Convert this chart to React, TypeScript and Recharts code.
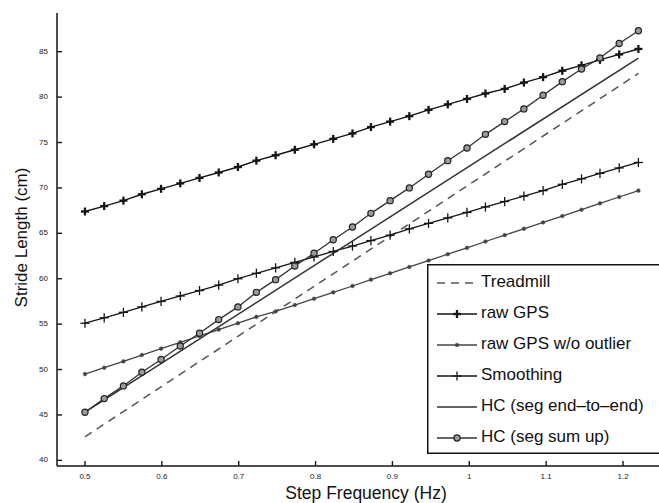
import { LineChart, Line, XAxis, YAxis, Legend } from "recharts";

// step frequency samples (Hz) shared by the marked series
const stepFreq = [
  0.5, 0.525, 0.55, 0.574, 0.599, 0.624, 0.649, 0.674, 0.699, 0.723,
  0.748, 0.773, 0.798, 0.823, 0.848, 0.872, 0.897, 0.922, 0.947, 0.972,
  0.997, 1.021, 1.046, 1.071, 1.096, 1.121, 1.146, 1.17, 1.195, 1.22,
];

// stride length (cm)
const rawGps = [
  67.4, 68.0, 68.6, 69.3, 69.9, 70.5, 71.1, 71.7, 72.3, 73.0,
  73.6, 74.2, 74.8, 75.4, 76.0, 76.7, 77.3, 77.9, 78.6, 79.2,
  79.8, 80.4, 80.9, 81.6, 82.2, 82.9, 83.5, 84.1, 84.7, 85.3,
];
const rawGpsNoOutlier = [
  49.5, 50.2, 50.9, 51.6, 52.3, 53.0, 53.7, 54.4, 55.1, 55.8,
  56.4, 57.1, 57.8, 58.5, 59.2, 59.9, 60.6, 61.3, 62.0, 62.7,
  63.4, 64.1, 64.8, 65.5, 66.2, 66.9, 67.6, 68.3, 69.0, 69.7,
];
const smoothing = [
  55.1, 55.7, 56.3, 56.9, 57.5, 58.1, 58.7, 59.3, 60.0, 60.6,
  61.2, 61.8, 62.4, 63.0, 63.6, 64.2, 64.8, 65.5, 66.1, 66.7,
  67.3, 67.9, 68.5, 69.1, 69.7, 70.4, 71.0, 71.6, 72.2, 72.8,
];
const hcSumUp = [
  45.3, 46.8, 48.2, 49.7, 51.1, 52.6, 54.0, 55.5, 56.9, 58.5,
  59.9, 61.4, 62.8, 64.3, 65.7, 67.2, 68.6, 70.0, 71.5, 73.0,
  74.4, 75.9, 77.3, 78.7, 80.2, 81.7, 83.1, 84.3, 85.9, 87.3,
];

// straight reference lines, end points only
const endFreq = [0.5, 1.22];
const treadmill = [42.6, 82.6];
const hcEndToEnd = [45.3, 84.3];

const xTicks = [0.5, 0.6, 0.7, 0.8, 0.9, 1, 1.1, 1.2];
const yTicks = [40, 45, 50, 55, 60, 65, 70, 75, 80, 85];

const legendNames = [
  "Treadmill",
  "raw GPS",
  "raw GPS w/o outlier",
  "Smoothing",
  "HC (seg end\u2013to\u2013end)",
  "HC (seg sum up)",
];

const rows = (xs: number[], ys: number[]) => xs.map((x, i) => ({ x, y: ys[i] }));

const FONT = "'Liberation Sans', Arial, Helvetica, sans-serif";
const INK = "#151515";

const PlusMark = ({ cx, cy, r, w }: any) => (
  <g stroke={INK} strokeWidth={w}>
    <line x1={cx - r} x2={cx + r} y1={cy} y2={cy} />
    <line x1={cx} x2={cx} y1={cy - r} y2={cy + r} />
  </g>
);
const DotMark = ({ cx, cy }: any) => <circle cx={cx} cy={cy} r={1.8} fill="#444" stroke="#444" strokeWidth={0.6} />;
const CircleMark = ({ cx, cy }: any) => (
  <circle cx={cx} cy={cy} r={3.1} fill="#9a9a9a" stroke="#222" strokeWidth={1.2} />
);

const dotOf = (kind: string) => (p: any) => {
  const k = `${kind}-${p.index}`;
  if (kind === "bold") return <PlusMark key={k} cx={p.cx} cy={p.cy} r={4} w={2.3} />;
  if (kind === "thin") return <PlusMark key={k} cx={p.cx} cy={p.cy} r={4.6} w={1.3} />;
  if (kind === "dot") return <DotMark key={k} cx={p.cx} cy={p.cy} />;
  return <CircleMark key={k} cx={p.cx} cy={p.cy} />;
};

const BottomTick = ({ x, y, payload }: any) => (
  <g>
    <line x1={x} x2={x} y1={y} y2={y - 5} stroke={INK} strokeWidth={1.4} />
    <text x={x} y={y + 11} textAnchor="middle" dominantBaseline="middle" fontSize={8} fontFamily={FONT} fill="#222">
      {payload.value}
    </text>
  </g>
);
const TopTick = ({ x, y }: any) => <line x1={x} x2={x} y1={y} y2={y + 5} stroke={INK} strokeWidth={1.4} />;
const LeftTick = ({ x, y, payload }: any) => (
  <g>
    <line x1={x} x2={x + 5} y1={y} y2={y} stroke={INK} strokeWidth={1.4} />
    <text x={x - 9} y={y} textAnchor="end" dominantBaseline="middle" fontSize={8} fontFamily={FONT} fill="#222">
      {payload.value}
    </text>
  </g>
);

const LegendBox = () => {
  const sample = (i: number, cy: number) => {
    const base = { x1: 10, x2: 50, y1: cy, y2: cy, strokeWidth: 1.4 };
    if (i === 0) return <line {...base} stroke="#555" strokeDasharray="8 6" />;
    if (i === 1) return (<g><line {...base} stroke={INK} /><PlusMark cx={30} cy={cy} r={4} w={2.3} /></g>);
    if (i === 2) return (<g><line {...base} stroke="#444" /><DotMark cx={30} cy={cy} /></g>);
    if (i === 3) return (<g><line {...base} stroke={INK} /><PlusMark cx={30} cy={cy} r={4.6} w={1.3} /></g>);
    if (i === 4) return <line {...base} stroke="#333" />;
    return (<g><line {...base} stroke="#333" /><CircleMark cx={30} cy={cy} /></g>);
  };
  return (
    <svg width={240} height={190} style={{ display: "block" }}>
      <rect x={0.75} y={0.75} width={250} height={188.5} fill="#fff" stroke={INK} strokeWidth={1.5} />
      {legendNames.map((name, i) => {
        const cy = 19 + i * 31;
        return (
          <g key={name}>
            {sample(i, cy)}
            <text x={54} y={cy} dominantBaseline="middle" fontSize={17} fontFamily={FONT} fill="#111">
              {name}
            </text>
          </g>
        );
      })}
    </svg>
  );
};

export default function App() {
  return (
    <div style={{ position: "absolute", left: 0, top: 0, width: 659, height: 503, overflow: "hidden", background: "#fff" }}>
      <LineChart width={659} height={503} margin={{ top: 13, right: 0, bottom: 0, left: 0 }}>
        <XAxis
          xAxisId="bottom"
          type="number"
          dataKey="x"
          domain={[0.4636, 1.2468]}
          ticks={xTicks}
          allowDataOverflow
          height={37}
          tickSize={0}
          tickMargin={0}
          tick={BottomTick}
          axisLine={{ stroke: INK, strokeWidth: 1.5 }}
          label={{
            content: ({ viewBox }: any) => (
              <text
                x={viewBox.x + viewBox.width / 2 + 8}
                y={viewBox.y + 28}
                textAnchor="middle"
                dominantBaseline="middle"
                fontSize={17.5}
                fontFamily={FONT}
                fill="#111"
              >
                Step Frequency (Hz)
              </text>
            ),
          }}
        />
        <XAxis
          xAxisId="top"
          orientation="top"
          type="number"
          dataKey="x"
          domain={[0.4636, 1.2468]}
          ticks={xTicks}
          allowDataOverflow
          height={0}
          tickSize={0}
          tickMargin={0}
          tick={TopTick}
          axisLine={{ stroke: INK, strokeWidth: 1.5 }}
        />
        <YAxis
          type="number"
          domain={[39.38, 89.26]}
          ticks={yTicks}
          allowDataOverflow
          width={57}
          tickSize={0}
          tickMargin={0}
          tick={LeftTick}
          axisLine={{ stroke: INK, strokeWidth: 1.5 }}
          label={{
            content: ({ viewBox }: any) => {
              const cx = viewBox.x + 23;
              const cy = viewBox.y + viewBox.height / 2 - 2;
              return (
                <text
                  x={cx}
                  y={cy}
                  transform={`rotate(-90 ${cx} ${cy})`}
                  textAnchor="middle"
                  dominantBaseline="middle"
                  fontSize={17}
                  fontFamily={FONT}
                  fill="#111"
                >
                  Stride Length (cm)
                </text>
              );
            },
          }}
        />
        <Legend
          layout="vertical"
          align="center"
          verticalAlign="middle"
          wrapperStyle={{ left: 427, top: 264, width: 240, height: 190 }}
          content={LegendBox}
        />
        <Line
          xAxisId="bottom"
          data={rows(endFreq, treadmill)}
          dataKey="y"
          name="Treadmill"
          stroke="#555"
          strokeWidth={1.5}
          strokeDasharray="8 6"
          dot={false}
          activeDot={false}
          isAnimationActive={false}
        />
        <Line
          xAxisId="bottom"
          data={rows(stepFreq, rawGps)}
          dataKey="y"
          name="raw GPS"
          stroke={INK}
          strokeWidth={1.4}
          dot={dotOf("bold")}
          activeDot={false}
          isAnimationActive={false}
        />
        <Line
          xAxisId="bottom"
          data={rows(stepFreq, rawGpsNoOutlier)}
          dataKey="y"
          name="raw GPS w/o outlier"
          stroke="#444"
          strokeWidth={1.3}
          dot={dotOf("dot")}
          activeDot={false}
          isAnimationActive={false}
        />
        <Line
          xAxisId="bottom"
          data={rows(stepFreq, smoothing)}
          dataKey="y"
          name="Smoothing"
          stroke={INK}
          strokeWidth={1.3}
          dot={dotOf("thin")}
          activeDot={false}
          isAnimationActive={false}
        />
        <Line
          xAxisId="bottom"
          data={rows(endFreq, hcEndToEnd)}
          dataKey="y"
          name="HC (seg end-to-end)"
          stroke="#333"
          strokeWidth={1.5}
          dot={false}
          activeDot={false}
          isAnimationActive={false}
        />
        <Line
          xAxisId="bottom"
          data={rows(stepFreq, hcSumUp)}
          dataKey="y"
          name="HC (seg sum up)"
          stroke="#333"
          strokeWidth={1.3}
          dot={dotOf("circle")}
          activeDot={false}
          isAnimationActive={false}
        />
      </LineChart>
    </div>
  );
}
